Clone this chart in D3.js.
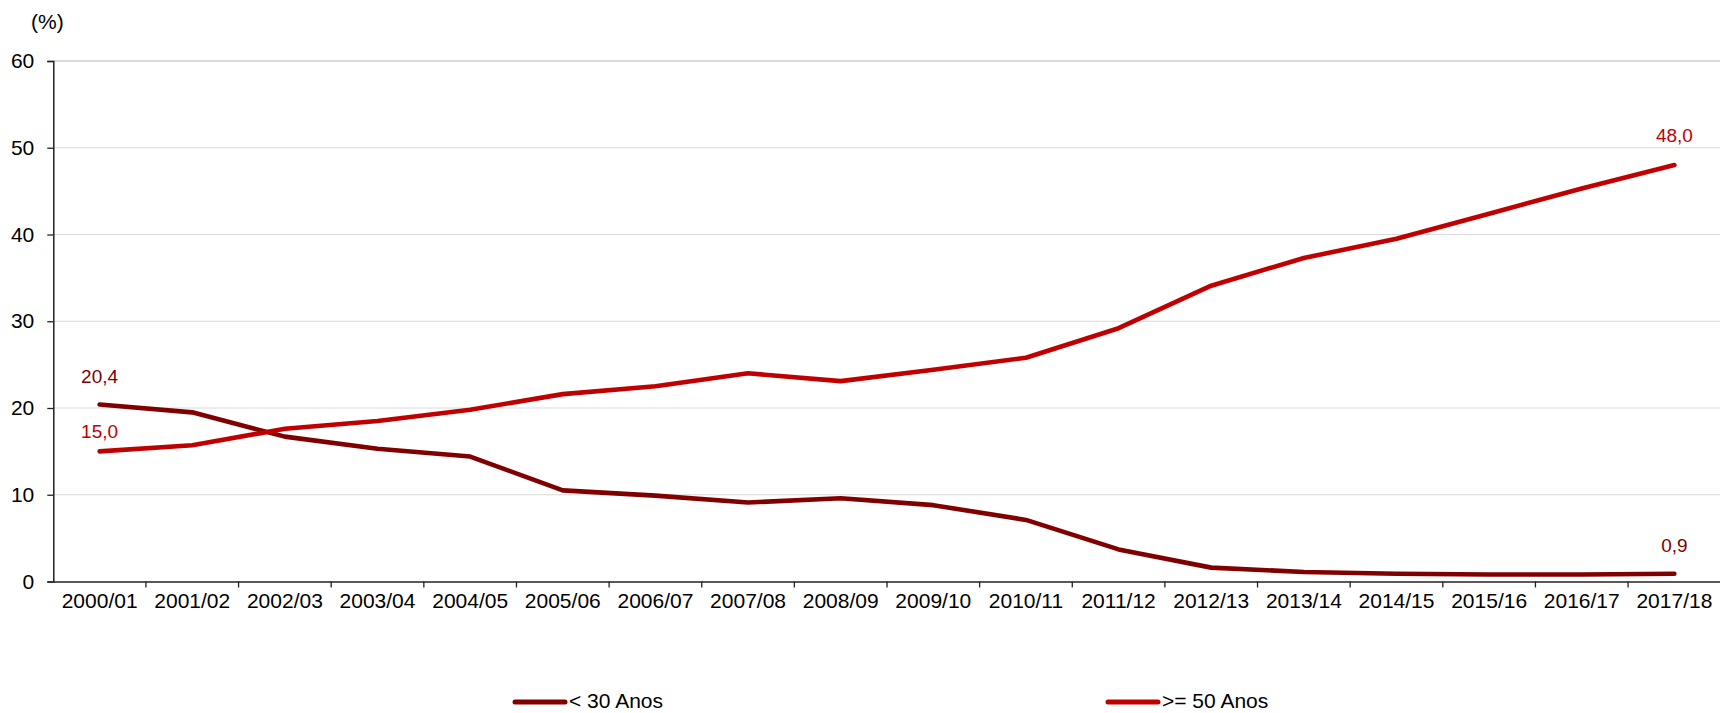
<!DOCTYPE html>
<html>
<head>
<meta charset="utf-8">
<script src="https://cdn.jsdelivr.net/npm/d3@7"></script>
<style>
  html, body { margin: 0; padding: 0; background: #fff; }
  svg { display: block; font-family: "Liberation Sans", Arial, sans-serif; }
</style>
</head>
<body>
<svg id="chart" width="1720" height="713"></svg>
<script>
const categories = ["2000/01","2001/02","2002/03","2003/04","2004/05","2005/06","2006/07","2007/08","2008/09","2009/10","2010/11","2011/12","2012/13","2013/14","2014/15","2015/16","2016/17","2017/18"];
const under30 = [20.4,19.5,16.7,15.3,14.4,10.5,9.9,9.1,9.6,8.8,7.1,3.7,1.6,1.1,0.9,0.8,0.8,0.9];
const over50  = [15.0,15.7,17.6,18.5,19.8,21.6,22.5,24.0,23.1,24.4,25.8,29.2,34.1,37.3,39.5,42.4,45.3,48.0];
const yTicks = [0,10,20,30,40,50,60];
const seriesNames = ["< 30 Anos", ">= 50 Anos"];

(function () {
const colors = ["#800000", "#C00000"];
const svg = d3.select("#chart");
const pLeft = 53.3, pRight = 1720.7, pTop = 61, pBottom = 581.5;
const FF = '"Liberation Sans", Arial, sans-serif';

const x = d3.scaleBand().domain(categories).range([pLeft, pRight]).padding(0);
const y = d3.scaleLinear().domain([0, 60]).range([pBottom, pTop]);
const cx = c => x(c) + x.bandwidth() / 2;

// gridlines
svg.append("g").selectAll("line").data(yTicks.filter(t => t > 0)).join("line")
  .attr("x1", pLeft).attr("x2", pRight)
  .attr("y1", d => y(d)).attr("y2", d => y(d))
  .attr("stroke", "#d9d9d9")
  .attr("stroke-width", d => d === 60 ? 2 : 1);

// y axis
const yAxis = svg.append("g").attr("transform", `translate(${pLeft},0)`)
  .call(d3.axisLeft(y).tickValues(yTicks).tickSize(6).tickPadding(13).tickFormat(d3.format("d")));
yAxis.select(".domain").attr("stroke", "#222").attr("stroke-width", 1.5);
yAxis.selectAll(".tick line").attr("stroke", "#222").attr("stroke-width", 1.3);
yAxis.selectAll("text").attr("font-size", 21).attr("fill", "#000").attr("font-family", FF);

// x axis
const xAxis = svg.append("g").attr("transform", `translate(0,${pBottom})`)
  .call(d3.axisBottom(x).tickSize(0).tickPadding(12));
xAxis.select(".domain").attr("stroke", "#222").attr("stroke-width", 1.5);
xAxis.selectAll("text").attr("font-size", 21).attr("fill", "#000").attr("font-family", FF);
// tick marks at category boundaries
svg.append("g").selectAll("line").data(categories.slice(1)).join("line")
  .attr("x1", d => x(d)).attr("x2", d => x(d))
  .attr("y1", pBottom).attr("y2", pBottom + 6)
  .attr("stroke", "#222").attr("stroke-width", 1.3);

// axis unit label
svg.append("text").attr("x", 31).attr("y", 29).attr("font-size", 21).attr("fill", "#000").text("(%)");

// lines
const series = [under30, over50];
const line = d3.line().x((d, i) => cx(categories[i])).y(d => y(d));
series.forEach((s, k) => {
  svg.append("path").datum(s)
    .attr("d", line)
    .attr("fill", "none")
    .attr("stroke", colors[k])
    .attr("stroke-width", 4.6)
    .attr("stroke-linecap", "round")
    .attr("stroke-linejoin", "round");
});

// data labels at first and last points
const fmt = v => d3.format(".1f")(v).replace(".", ",");
const labelOffsets = [[22, 22], [13, 23]];
series.forEach((s, k) => {
  [0, s.length - 1].forEach((i, j) => {
    svg.append("text")
      .attr("x", cx(categories[i]))
      .attr("y", y(s[i]) - labelOffsets[k][j])
      .attr("text-anchor", "middle")
      .attr("font-size", 19)
      .attr("fill", colors[k])
      .text(fmt(s[i]));
  });
});

// legend
const legendX = [515, 1108];
seriesNames.forEach((name, k) => {
  const g = svg.append("g");
  g.append("line").attr("x1", legendX[k]).attr("x2", legendX[k] + 50)
    .attr("y1", 702).attr("y2", 702)
    .attr("stroke", colors[k]).attr("stroke-width", 5).attr("stroke-linecap", "round");
  g.append("text").attr("x", legendX[k] + 54).attr("y", 708)
    .attr("font-size", 21).attr("fill", "#000").text(name);
});
})();
</script>
</body>
</html>
